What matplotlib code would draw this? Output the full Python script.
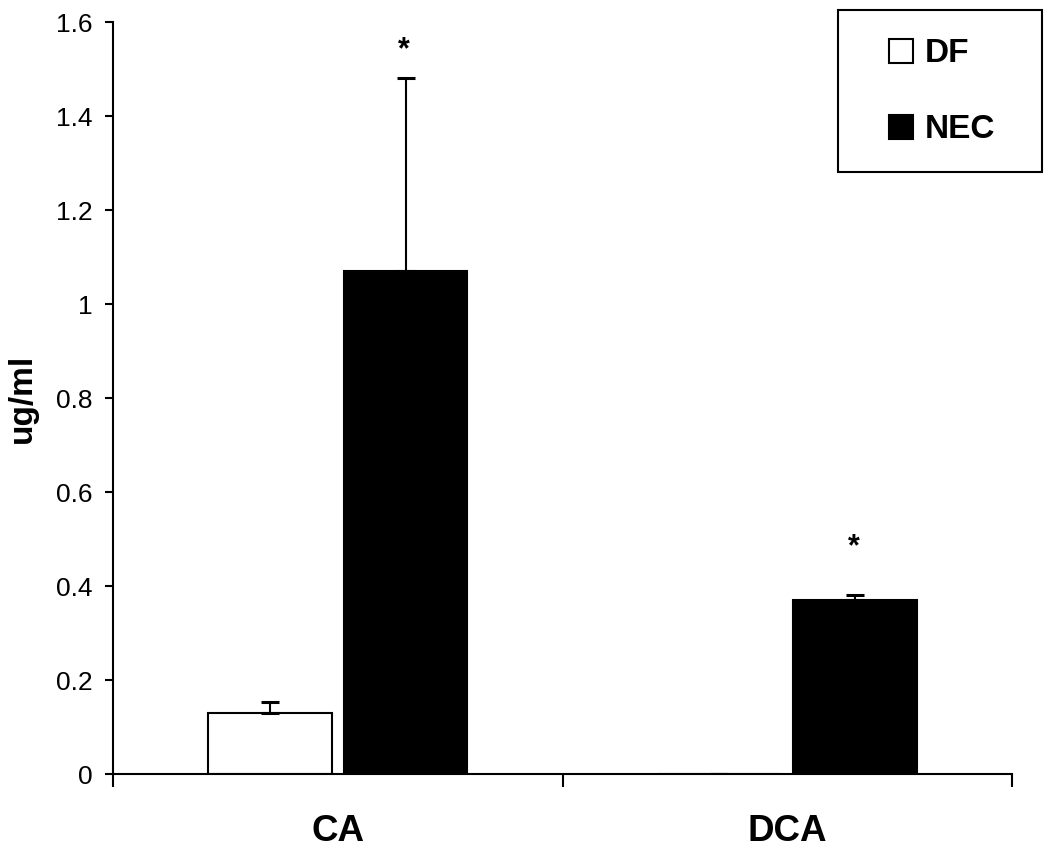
import numpy as np
import matplotlib
matplotlib.use('Agg')
import matplotlib.pyplot as plt
from matplotlib.patches import Rectangle

categories = ['CA', 'DCA']
groups = ['DF', 'NEC']
df_values = [0.13, 0.0]
df_err = [0.023, 0.0]
nec_values = [1.07, 0.37]
nec_err = [0.41, 0.01]
star_y = [1.54, 0.483]
yticks = [0, 0.2, 0.4, 0.6, 0.8, 1, 1.2, 1.4, 1.6]
ytick_labels = ['0', '0.2', '0.4', '0.6', '0.8', '1', '1.2', '1.4', '1.6']

plt.rcParams['font.family'] = ['Liberation Sans', 'DejaVu Sans']

fig = plt.figure(figsize=(10.5, 8.57), dpi=100)
ax = fig.add_axes([113 / 1050, 83 / 857, 899 / 1050, 752 / 857])

x = np.arange(len(categories))
w = 0.275
off = 0.151

err_kw = dict(ecolor='black', elinewidth=1.5, capsize=6.5, capthick=2.2)
ax.bar(x - off, df_values, w, color='white', edgecolor='black', linewidth=1.5,
       label=groups[0], yerr=[np.zeros(2), df_err], error_kw=err_kw)
ax.bar(x + off, nec_values, w, color='black', edgecolor='black', linewidth=1.5,
       label=groups[1], yerr=[np.zeros(2), nec_err], error_kw=err_kw)

for xi, sy in zip(x, star_y):
    ax.text(xi + off - 0.004, sy, '*', ha='center', va='center', fontsize=22,
            fontweight='bold')

ax.set_xlim(-0.5, 1.5)
ax.set_ylim(0, 1.6)
ax.set_yticks(yticks)
ax.set_yticklabels(ytick_labels)
ax.set_xticks([-0.5, 0.5, 1.5])
ax.set_xticklabels([])
ax.set_xticks(x, minor=True)
ax.set_xticklabels(categories, minor=True, fontsize=26.5, fontweight='bold')
ax.tick_params(axis='x', which='major', direction='out', length=9.5, width=1.5)
ax.tick_params(axis='x', which='minor', length=0, pad=29)
ax.tick_params(axis='y', direction='out', length=6, width=1.5, labelsize=19, pad=9)

for s in ['top', 'right']:
    ax.spines[s].set_visible(False)
for s in ['left', 'bottom']:
    ax.spines[s].set_linewidth(1.5)

ax.set_ylabel('ug/ml', fontsize=24, fontweight='bold', labelpad=13)

# legend frame drawn by hand so the padding matches
fig.patches.append(Rectangle((838 / 1050, 1 - 172 / 857), 204 / 1050, 162 / 857,
                             transform=fig.transFigure, fill=False,
                             edgecolor='black', linewidth=1.5))
ax.legend(loc='center', bbox_to_anchor=(942 / 1050, 1 - 92 / 857),
          bbox_transform=fig.transFigure, frameon=False,
          prop={'weight': 'bold', 'size': 24}, handlelength=0.72,
          handleheight=0.7, handletextpad=0.33, labelspacing=1.35,
          borderpad=0)

fig.savefig('out.png', dpi=100)
